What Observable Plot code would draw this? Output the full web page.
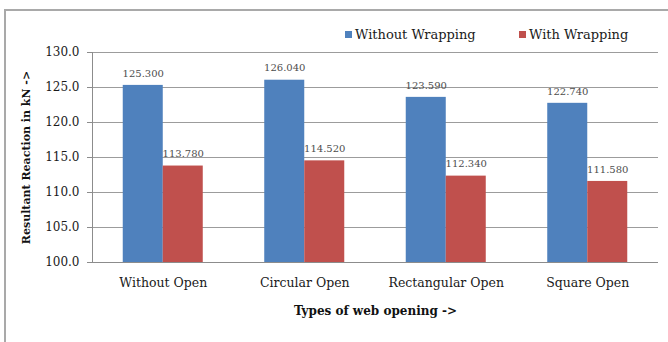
<!DOCTYPE html>
<html>
<head>
<meta charset="utf-8">
<script src="https://cdn.jsdelivr.net/npm/d3@7"></script>
<script src="https://cdn.jsdelivr.net/npm/@observablehq/plot@0.6"></script>
<style>
  body { margin: 0; background: #fff; }
  #wrap { position: relative; width: 668px; height: 342px; overflow: hidden; font-family: "DejaVu Serif", serif; }
  #box { position: absolute; left: 4px; top: 9px; width: 720px; height: 420px; border: 2px solid #a9a9a9; box-sizing: border-box; }
  #chart { position: absolute; left: 0; top: 0; }
  #legend { position: absolute; top: 27px; left: 345px; font-size: 13px; color: #1a1a1a; white-space: nowrap; }
  #legend span.item { position: absolute; top: 0; display: flex; align-items: center; }
  #legend span.sw { display: inline-block; width: 7px; height: 7px; margin-right: 3px; }
  #chart svg g[aria-label="y-axis label"] text { font-weight: bold; font-size: 11px; fill: #111; }
  #chart svg g[aria-label="x-axis label"] text { font-weight: bold; font-size: 12px; fill: #111; }
</style>
</head>
<body>
<div id="wrap">
  <div id="box"></div>
  <div id="chart"></div>
  <div id="legend"></div>
</div>
<script>
// Resultant reaction (kN) for each type of web opening, with and without wrapping
const categories = ["Without Open", "Circular Open", "Rectangular Open", "Square Open"];
const series = ["Without Wrapping", "With Wrapping"];
const withoutWrapping = [125.300, 126.040, 123.590, 122.740];
const withWrapping = [113.780, 114.520, 112.340, 111.580];
const colors = ["#4F81BD", "#C0504D"];
const yTicks = [100, 105, 110, 115, 120, 125, 130];

const rows = categories.flatMap((c, i) => [
  {category: c, series: series[0], value: withoutWrapping[i]},
  {category: c, series: series[1], value: withWrapping[i]}
]);
const bySeries = s => rows.filter(d => d.series === s);

const half = 40; // half of the band: each series takes one side of it

const chart = Plot.plot({
  width: 668,
  height: 342,
  marginTop: 52,
  marginBottom: 80,
  marginLeft: 92,
  marginRight: 10,
  style: {fontFamily: "DejaVu Serif, serif", fontSize: "12px", color: "#1a1a1a", background: "transparent"},
  x: {domain: categories, paddingInner: 0.4346, paddingOuter: 0.2173, round: false},
  y: {domain: [yTicks[0], yTicks[yTicks.length - 1]]},
  marks: [
    Plot.gridY(yTicks, {stroke: "#9c9c9c", strokeOpacity: 1}),
    Plot.barY(bySeries(series[0]), {x: "category", y1: yTicks[0], y2: "value", fill: colors[0], insetRight: half, insetLeft: 0}),
    Plot.barY(bySeries(series[1]), {x: "category", y1: yTicks[0], y2: "value", fill: colors[1], insetLeft: half, insetRight: 0}),
    Plot.text(bySeries(series[0]), {x: "category", y: "value", text: d => d.value.toFixed(3), dx: -half / 2, dy: -12, fontSize: 10, fill: "#4d4d4d"}),
    Plot.text(bySeries(series[1]), {x: "category", y: "value", text: d => d.value.toFixed(3), dx: half / 2, dy: -12, fontSize: 10, fill: "#4d4d4d"}),
    Plot.ruleY([yTicks[0]], {stroke: "#8c8c8c"}),
    Plot.frame({anchor: "left", stroke: "#8c8c8c"}),
    Plot.axisY(yTicks, {
      tickFormat: d3.format(".1f"), tickSize: 5, tickPadding: 8, stroke: "#8c8c8c",
      fontSize: 12, color: "#1a1a1a",
      label: "Resultant Reaction in kN ->", labelAnchor: "center", labelOffset: 70, labelArrow: false
    }),
    Plot.axisX({
      tickSize: 0, tickPadding: 16, fontSize: 12.5, color: "#1a1a1a",
      label: "Types of web opening ->", labelAnchor: "center", labelOffset: 52, labelArrow: false
    })
  ]
});
document.getElementById("chart").appendChild(chart);

// Legend above the plot area
const legend = document.getElementById("legend");
const offsets = [0, 174];
series.forEach((s, i) => {
  const item = document.createElement("span");
  item.className = "item";
  item.style.left = offsets[i] + "px";
  const sw = document.createElement("span");
  sw.className = "sw";
  sw.style.background = colors[i];
  item.appendChild(sw);
  item.appendChild(document.createTextNode(s));
  legend.appendChild(item);
});
</script>
</body>
</html>
